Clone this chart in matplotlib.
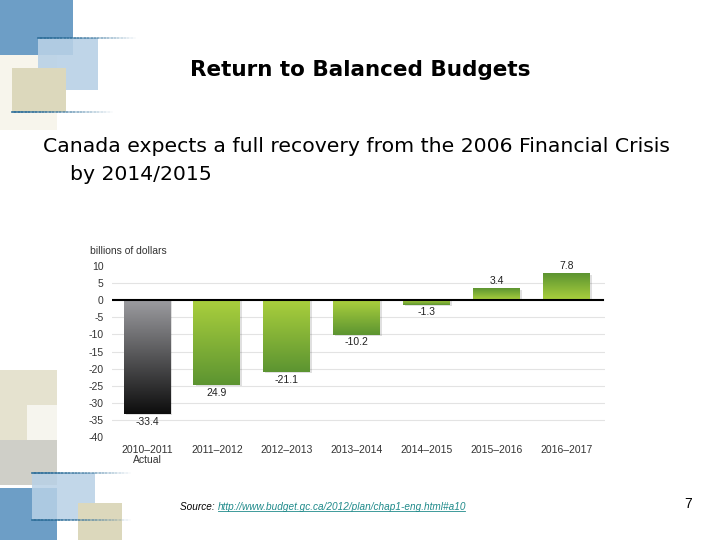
import numpy as np
import matplotlib
matplotlib.use("Agg")
import matplotlib.pyplot as plt
from matplotlib.colors import LinearSegmentedColormap
from matplotlib.patches import Rectangle

# --- data ---
years = ['2010\u20132011\nActual', '2011\u20132012', '2012\u20132013', '2013\u20132014',
         '2014\u20132015', '2015\u20132016', '2016\u20132017']
balance = [-33.4, -24.9, -21.1, -10.2, -1.3, 3.4, 7.8]
value_labels = ['-33.4', '24.9', '-21.1', '-10.2', '-1.3', '3.4', '7.8']
y_ticks = [10, 5, 0, -5, -10, -15, -20, -25, -30, -35, -40]

W, H = 720, 540
fig = plt.figure(figsize=(W / 100, H / 100), dpi=100)
fig.patch.set_facecolor('white')


def px_rect(x0, y0, x1, y1, color, alpha=1.0, z=0):
    # rectangle given in pixel coords of the slide (top-left origin)
    fig.add_artist(Rectangle((x0 / W, 1 - y1 / H), (x1 - x0) / W, (y1 - y0) / H,
                             transform=fig.transFigure, facecolor=color,
                             edgecolor='none', alpha=alpha, zorder=z))


def px_line(x0, x1, y, color='#2f6f9a'):
    xs = np.linspace(x0, x1, 30)
    for i in range(len(xs) - 1):
        a = 1 - i / (len(xs) - 1)
        fig.add_artist(plt.Line2D([xs[i] / W, xs[i + 1] / W], [1 - y / H, 1 - y / H],
                                  transform=fig.transFigure, color=color,
                                  alpha=a, lw=1.2, zorder=3))


# --- slide decoration (top-left) ---
px_rect(0, 55, 57, 130, '#f7f5ec')
px_rect(0, 0, 73, 55, '#6d9ec6')
px_rect(38, 38, 98, 90, '#b8d1e6', alpha=0.9, z=1)
px_rect(12, 68, 66, 112, '#dcd8bc', z=2)
px_line(38, 135, 38)
px_line(12, 112, 112)

# --- slide decoration (bottom-left) ---
px_rect(0, 370, 57, 485, '#e5e2cf')
px_rect(27, 405, 57, 450, '#f6f5ee', z=1)
px_rect(0, 440, 57, 485, '#cfcfc8', z=1)
px_rect(0, 488, 57, 540, '#6d9ec6', z=1)
px_rect(32, 473, 95, 520, '#b8d1e6', alpha=0.85, z=2)
px_rect(78, 503, 122, 540, '#dcd8bc', z=2)
px_line(32, 130, 473)
px_line(32, 130, 520)

# --- texts ---
fig.text(360 / W, 1 - 70 / H, 'Return to Balanced Budgets', ha='center', va='center',
         fontsize=15.5, fontweight='bold', family='DejaVu Sans')
fig.text(43 / W, 1 - 146 / H, 'Canada expects a full recovery from the 2006 Financial Crisis',
         ha='left', va='center', fontsize=14.7, family='DejaVu Sans')
fig.text(70 / W, 1 - 175 / H, 'by 2014/2015', ha='left', va='center', fontsize=14.7,
         family='DejaVu Sans')
fig.text(180 / W, 1 - 507 / H, 'Source: ', ha='left', va='center', fontsize=7.2,
         style='italic', family='Liberation Sans')
fig.text(218 / W, 1 - 507 / H, 'http://www.budget.gc.ca/2012/plan/chap1-eng.html#a10',
         ha='left', va='center', fontsize=7.2, style='italic', color='#1f8a8a',
         family='Liberation Sans')
fig.add_artist(plt.Line2D([218 / W, 465 / W], [1 - 511 / H, 1 - 511 / H],
                          transform=fig.transFigure, color='#1f8a8a', lw=0.6))
fig.text(688 / W, 1 - 504 / H, '7', ha='center', va='center', fontsize=10,
         family='Liberation Sans')
fig.text(90 / W, 1 - 251 / H, 'billions of dollars', ha='left', va='center', fontsize=7.5,
         color='#333333', family='Liberation Sans')

# --- chart ---
ax = fig.add_axes([112 / W, 1 - 437 / H, (605 - 112) / W, (437 - 266) / H])
x = np.arange(len(years))
bars = ax.bar(x, balance, width=0.67, color='none', edgecolor='none', zorder=3)

green = LinearSegmentedColormap.from_list('g', ['#abd03d', '#5c9431'])
grey = LinearSegmentedColormap.from_list('k', ['#9d9da1', '#0d0d0d'])
grad = np.linspace(0, 1, 256).reshape(-1, 1)

for i, b in enumerate(bars):
    x0, w, h = b.get_x(), b.get_width(), b.get_height()
    y0, y1 = (0, h) if h > 0 else (h, 0)
    img = grad[::-1] if h > 0 else grad
    cmap = grey if i == 0 else green
    # soft shadow
    ax.add_patch(Rectangle((x0 + 0.03, y0 - 0.3), w, y1 - y0, facecolor='#000000',
                           alpha=0.12, edgecolor='none', zorder=2))
    ax.imshow(img, extent=[x0, x0 + w, y0, y1], cmap=cmap, aspect='auto',
              origin='upper', zorder=3)
    if h < 0:
        ax.text(x[i], h - 0.7, value_labels[i], ha='center', va='top', fontsize=7.5,
                color='#222222', family='Liberation Sans', zorder=5)
    else:
        ax.text(x[i], h + 0.7, value_labels[i], ha='center', va='bottom', fontsize=7.5,
                color='#222222', family='Liberation Sans', zorder=5)

ax.axhline(0, color='black', lw=1.5, zorder=4, xmax=0.995)
for t in y_ticks[1:-1]:
    if t != 0:
        ax.axhline(t, color='#e3e3e3', lw=0.8, zorder=1)

ax.set_xlim(-0.5, 6.55)
ax.set_ylim(-40, 10)
ax.set_yticks(y_ticks)
ax.set_yticklabels([str(t) for t in y_ticks], fontsize=7.5, color='#333333',
                   family='Liberation Sans')
ax.set_xticks(x)
ax.set_xticklabels(years, fontsize=7.5, color='#333333', family='Liberation Sans',
                   linespacing=1.0)
ax.tick_params(length=0, pad=6)
for s in ax.spines.values():
    s.set_visible(False)
ax.set_facecolor('none')

fig.savefig('out.png', dpi=100, facecolor='white')
